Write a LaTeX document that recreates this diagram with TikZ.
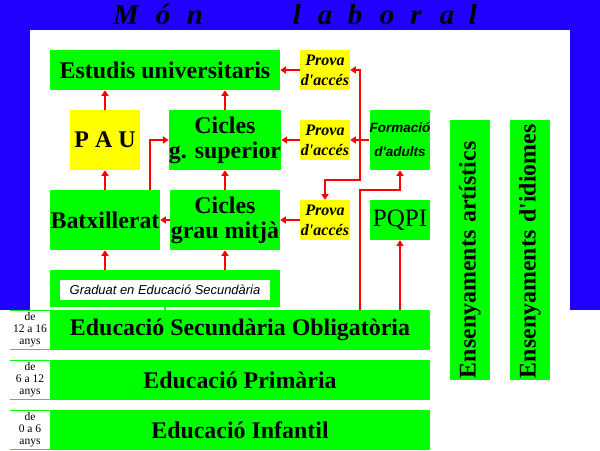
\documentclass[tikz,border=0pt]{standalone}
\usepackage{fontspec}
\setmainfont{Liberation Serif}
\newfontfamily\arialfont{Liberation Sans}
\usetikzlibrary{arrows.meta}
\definecolor{edgreen}{RGB}{0,255,0}
\definecolor{edyellow}{RGB}{255,255,0}
\definecolor{edblue}{RGB}{32,0,255}
\newcommand{\apos}{\textquotesingle}
\tikzset{
  box/.style={fill=edgreen, inner sep=0pt, align=center, font=\bfseries\fontsize{17}{17.8}\selectfont},
  prova/.style={fill=edyellow, inner sep=0pt, align=center, minimum width=1.25cm, minimum height=1cm,
    font=\bfseries\itshape\fontsize{11.4}{14.2}\selectfont},
  bar/.style={box, minimum width=9.5cm, minimum height=1cm},
  agecell/.style={fill=white, inner sep=0pt, align=center, minimum width=1cm, minimum height=0.95cm,
    font=\fontsize{8.2}{8.5}\selectfont},
  conn/.style={draw=red, line width=1.4pt, ->},
  titleletter/.style={anchor=base, font=\bfseries\itshape\fontsize{20.6}{20.6}\selectfont}
}
\begin{document}
\begin{tikzpicture}[x=0.025cm, y=-0.025cm, >={Triangle[length=4pt,width=5pt]}]
  \useasboundingbox (0,0) rectangle (600,450);
  % 1. background frame and title
  \fill[edblue] (0,0) rectangle (600,310);
  \fill[white] (30,30) rectangle (570,310);
  \foreach \l/\x in {M/126, ó/163, n/195, l/297, a/325, b/355, o/387, r/416, a/447, l/473}
    \node[titleletter] at (\x,24) {\l};

  % 2. upper boxes
  \node[box, minimum width=5.75cm, minimum height=1cm] (univ) at (165,70) {Estudis universitaris};
  \node[prova] (pt) at (325,70) {Prova\\d\apos accés};
  \node[box, fill=edyellow, minimum width=1.75cm, minimum height=1.5cm] (pau) at (105,140) {P A U};
  \node[box, minimum width=2.75cm, minimum height=1.5cm] (gs) at (225,140) {Cicles\\g. superior};
  \node[prova] (pm) at (325,140) {Prova\\d\apos accés};
  \node[box, minimum width=1.5cm, minimum height=1.5cm, font=\arialfont\bfseries\itshape\fontsize{9.6}{17}\selectfont] (fa) at (400,140) {Formació\\d\apos adults};
  \node[box, minimum width=2.75cm, minimum height=1.5cm] (batx) at (105,220) {Batxillerat};
  \node[box, minimum width=2.75cm, minimum height=1.5cm] (gm) at (225,220) {Cicles\\grau mitjà};
  \node[prova] (pl) at (325,220) {Prova\\d\apos accés};
  \node[box, minimum width=1.5cm, minimum height=1cm, font=\fontsize{17.8}{17.8}\selectfont] (pq) at (400,220) {PQPI};

  % 3. vertical boxes
  \node[box, rotate=90, minimum width=6.5cm, minimum height=1cm, text width=6.4cm, align=left] (art) at (470,250) {Ensenyaments artístics};
  \node[box, rotate=90, minimum width=6.5cm, minimum height=1cm, text width=6.4cm, align=left] (idi) at (530,250) {Ensenyaments d\apos idiomes};

  % 4. graduate box and school levels
  \node[fill=edgreen, minimum width=5.75cm, minimum height=0.925cm] (gradbg) at (165,288.5) {};
  \node[fill=white, inner sep=0pt, minimum width=5.25cm, minimum height=0.5cm,
    font=\arialfont\itshape\fontsize{9.2}{9.2}\selectfont] (grad) at (165,290) {Graduat en Educació Secundària};
  \node[bar] (eso) at (240,330) {Educació Secundària Obligatòria};
  \node[bar] (prim) at (240,380) {Educació Primària};
  \node[bar] (inf) at (240,430) {Educació Infantil};
  \node[agecell] (age1) at (30,330) {de\\12 a 16\\anys};
  \node[agecell] (age2) at (30,380) {de\\6 a 12\\anys};
  \node[agecell] (age3) at (30,430) {de\\0 a 6\\anys};
  \foreach \a in {age1,age2,age3}
    \draw[edgreen, line width=0.7pt] (\a.north west) -- (\a.north east) (\a.south west) -- (\a.south east);
  \draw[edgreen, line width=2pt] (gradbg.south) -- (gradbg.south |- eso.north);

  % 5. connectors
  \coordinate (split) at (360,180);
  \coordinate (turn) at (360,190);
  \draw[conn] (pau.north) -- (pau.north |- univ.south);
  \draw[conn] (gs.north) -- (gs.north |- univ.south);
  \draw[conn] (batx.north) -- (pau.south);
  \draw[conn] (gm.north) -- (gs.south);
  \draw[conn] ([xshift=-0.25cm]batx.north east) |- (gs.west);
  \draw[conn] (gm.west) -- (batx.east);
  \draw[conn] (pl.west) -- (gm.east);
  \draw[conn] (pm.west) -- (gs.east);
  \draw[conn] (pt.west) -- (univ.east);
  \draw[conn] (fa.west) -- (pm.east);
  \draw[conn] (fa.west -| split) |- (pt.east);
  \draw[conn] (fa.west -| split) -- (split) -| (pl.north);
  \draw[conn] (eso.north -| turn) -- (turn) -| (fa.south);
  \draw[conn] (eso.north -| pq.south) -- (pq.south);
  \draw[conn] (batx.south |- gradbg.north) -- (batx.south);
  \draw[conn] (gm.south |- gradbg.north) -- (gm.south);
\end{tikzpicture}
\end{document}
